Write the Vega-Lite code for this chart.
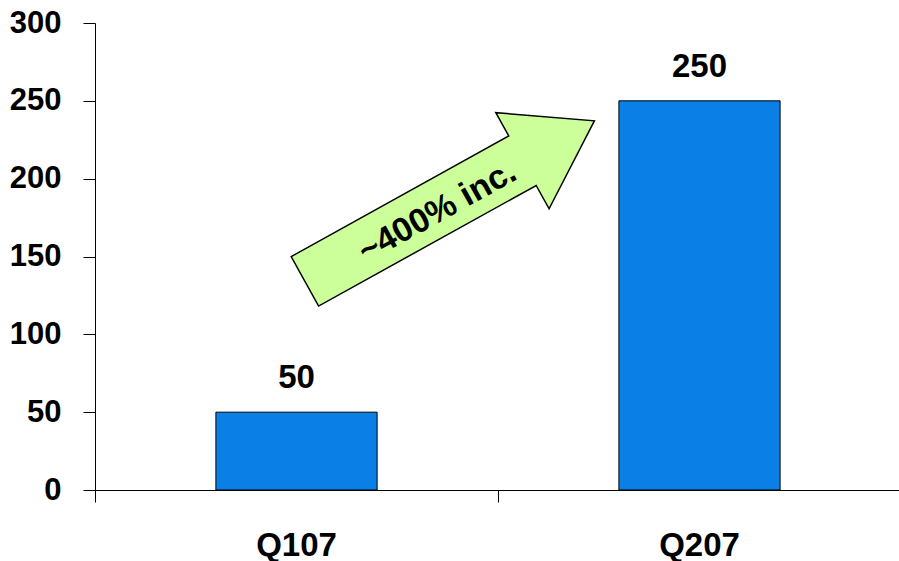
{
  "$schema": "https://vega.github.io/schema/vega-lite/v6.json",
  "autosize": {"type": "none"},
  "padding": {"left": 95, "top": 23, "right": 0, "bottom": 71},
  "width": 806,
  "height": 467,
  "background": "white",
  "config": {
    "view": {"stroke": null},
    "font": "Liberation Sans",
    "axis": {
      "domainColor": "black",
      "domainWidth": 1,
      "tickColor": "black",
      "tickWidth": 1,
      "tickSize": 12,
      "labelColor": "black",
      "labelFont": "Liberation Sans",
      "labelFontWeight": "bold",
      "labelFontSize": 31,
      "grid": false,
      "title": null
    }
  },
  "datasets": {
    "bars": [
      {"quarter": "Q107", "value": 50},
      {"quarter": "Q207", "value": 250}
    ],
    "annotation": [
      {"pos": 0.88, "level": 185.6, "tpos": 0.85, "tlevel": 178.6, "label": "~400% inc."}
    ]
  },
  "layer": [
    {
      "data": {"name": "bars"},
      "layer": [
        {
          "mark": {"type": "bar", "color": "#0A80E6", "stroke": "black", "strokeWidth": 1},
          "encoding": {
            "x": {
              "field": "quarter", "type": "nominal", "sort": null,
              "scale": {"paddingInner": 0.6, "paddingOuter": 0.3},
              "axis": {"labelAngle": 0, "bandPosition": -0.75, "labelPadding": 27, "labelBaseline": "top", "labelFontSize": 33}
            },
            "y": {
              "field": "value", "type": "quantitative",
              "scale": {"domain": [0, 300], "nice": false},
              "axis": {"values": [0, 50, 100, 150, 200, 250, 300], "labelPadding": 22}
            }
          }
        },
        {
          "mark": {"type": "text", "fontSize": 33, "fontWeight": "bold", "font": "Liberation Sans", "color": "black", "baseline": "alphabetic", "dy": -24},
          "encoding": {
            "x": {"field": "quarter", "type": "nominal", "sort": null},
            "y": {"field": "value", "type": "quantitative"},
            "text": {"field": "value", "type": "quantitative"}
          }
        }
      ]
    },
    {
      "data": {"name": "annotation"},
      "mark": {
        "type": "point",
        "shape": "M-1,-0.171 L0.503,-0.171 L0.503,-0.332 L1,0 L0.503,0.332 L0.503,0.171 L-1,0.171 Z",
        "size": 109561,
        "angle": -29,
        "filled": true,
        "fill": "#CCFF99",
        "fillOpacity": 1,
        "stroke": "black",
        "strokeWidth": 1.5,
        "opacity": 1
      },
      "encoding": {
        "x": {"field": "pos", "type": "quantitative", "scale": {"domain": [0, 2], "nice": false, "zero": false}, "axis": null},
        "y": {"field": "level", "type": "quantitative"}
      }
    },
    {
      "data": {"name": "annotation"},
      "mark": {"type": "text", "fontSize": 34, "fontWeight": "bold", "font": "Liberation Sans", "color": "black", "angle": -29, "align": "center", "baseline": "middle"},
      "encoding": {
        "x": {"field": "tpos", "type": "quantitative", "scale": {"domain": [0, 2], "nice": false, "zero": false}, "axis": null},
        "y": {"field": "tlevel", "type": "quantitative"},
        "text": {"field": "label"}
      }
    }
  ],
  "resolve": {"scale": {"x": "independent"}, "axis": {"x": "independent"}}
}
